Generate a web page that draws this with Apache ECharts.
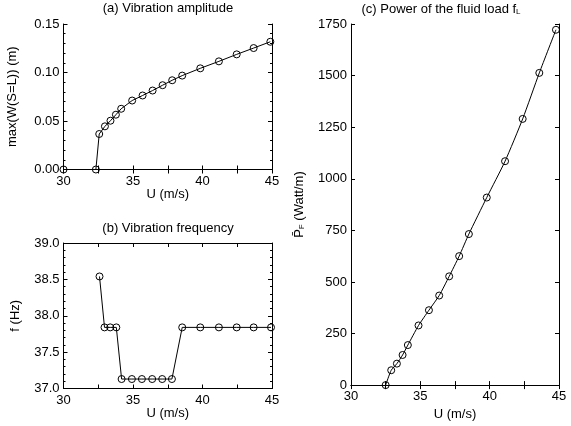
<!DOCTYPE html>
<html>
<head>
<meta charset="utf-8">
<script src="https://cdn.jsdelivr.net/npm/echarts@6/dist/echarts.min.js"></script>
<style>
html, body { margin: 0; padding: 0; background: #fff; }
#main { width: 571px; height: 426px; }
</style>
</head>
<body>
<div id="main"></div>
<script>
// (a) vibration amplitude
var uAmp = [30, 32.33, 32.57, 32.98, 33.38, 33.77, 34.15, 34.94, 35.69, 36.41, 37.13, 37.82, 38.54, 39.84, 41.18, 42.46, 43.68, 44.88];
var amp = [0, 0, 0.0366, 0.0445, 0.0503, 0.0565, 0.0626, 0.0711, 0.0763, 0.0814, 0.0869, 0.092, 0.0968, 0.1043, 0.1115, 0.1187, 0.1252, 0.1317];

// (b) vibration frequency
var uFreq = [32.59, 32.95, 33.36, 33.8, 34.18, 34.92, 35.64, 36.38, 37.1, 37.8, 38.54, 39.84, 41.18, 42.46, 43.68, 44.93];
var freq = [38.54, 37.84, 37.84, 37.84, 37.13, 37.13, 37.13, 37.13, 37.13, 37.13, 37.84, 37.84, 37.84, 37.84, 37.84, 37.84];

// (c) power of the fluid load
var uPow = [32.5, 32.9, 33.31, 33.72, 34.1, 34.87, 35.62, 36.36, 37.08, 37.8, 38.5, 39.79, 41.11, 42.38, 43.58, 44.78];
var power = [0, 72, 104, 146, 194, 289, 363, 434, 527, 625, 732, 909, 1085, 1290, 1513, 1722];

var dom = document.getElementById('main');
var myChart = echarts.init(dom);
var option;

var FONT = 'Liberation Sans';
var FS = 13;

function pairs(xs, ys) {
  return xs.map(function (x, i) { return [x, ys[i]]; });
}

// main x axis + mirrored top axis (ticks only)
function xAxes(grid) {
  var base = {
    type: 'value',
    gridIndex: grid,
    min: 30,
    max: 45,
    interval: 5,
    axisLine: { lineStyle: { color: '#000', width: 1 } },
    axisTick: { inside: true, length: 4, lineStyle: { color: '#000' } },
    minorTick: { show: true, splitNumber: 2, length: 4, lineStyle: { color: '#000' } },
    splitLine: { show: false }
  };
  var bottom = Object.assign({}, base, {
    position: 'bottom',
    name: 'U (m/s)',
    nameLocation: 'middle',
    nameGap: 16,
    nameTextStyle: { color: '#000', fontSize: FS, fontFamily: FONT },
    axisLabel: { color: '#000', fontSize: FS, fontFamily: FONT, margin: 5 }
  });
  var top = Object.assign({}, base, { position: 'top', axisLabel: { show: false } });
  return [bottom, top];
}

function yAxes(grid, min, max, step, minor, dec, name, gap, rich) {
  var base = {
    type: 'value',
    gridIndex: grid,
    min: min,
    max: max,
    interval: step,
    axisLine: { show: true, lineStyle: { color: '#000', width: 1 } },
    axisTick: { show: true, inside: true, length: 4, lineStyle: { color: '#000' } },
    minorTick: { show: minor > 1, splitNumber: minor, length: 2, lineStyle: { color: '#000' } },
    splitLine: { show: false }
  };
  var left = Object.assign({}, base, {
    position: 'left',
    name: name,
    nameLocation: 'middle',
    nameGap: gap,
    nameTextStyle: { color: '#000', fontSize: FS, fontFamily: FONT, rich: rich },
    axisLabel: {
      color: '#000', fontSize: FS, fontFamily: FONT, margin: 4,
      formatter: function (v) { return v.toFixed(dec); }
    }
  });
  var right = Object.assign({}, base, { position: 'right', axisLabel: { show: false } });
  return [left, right];
}

function lineSeries(idx, data, smooth) {
  return {
    type: 'line',
    xAxisIndex: idx,
    yAxisIndex: idx,
    data: data,
    smooth: smooth,
    symbol: 'circle',
    symbolSize: 7,
    itemStyle: { color: 'transparent', borderColor: '#000', borderWidth: 1 },
    lineStyle: { color: '#000', width: 1 },
    silent: true,
    animation: false
  };
}

var titleStyle = {
  color: '#000', fontSize: FS, fontWeight: 'normal', fontFamily: FONT,
  rich: { sub: { fontSize: 8, fontFamily: FONT, color: '#000', verticalAlign: 'bottom', padding: [6, 0, 0, 0] } }
};

option = {
  backgroundColor: '#fff',
  animation: false,
  title: [
    { text: '(a) Vibration amplitude', left: 168, top: 2, textAlign: 'center', padding: 0, textStyle: titleStyle },
    { text: '(b) Vibration frequency', left: 168, top: 222, textAlign: 'center', padding: 0, textStyle: titleStyle },
    { text: '(c) Power of the fluid load f{sub|L}', left: 441, top: 2, textAlign: 'center', padding: 0, textStyle: titleStyle }
  ],
  grid: [
    { left: 63.5, top: 24, width: 208.5, height: 145.5 },
    { left: 63.5, top: 243, width: 208.5, height: 145.5 },
    { left: 351, top: 24, width: 208, height: 364.5 }
  ],
  xAxis: [].concat(xAxes(0), xAxes(1), xAxes(2)),
  yAxis: [].concat(
    yAxes(0, 0, 0.15, 0.05, 5, 2, 'max(W(S=L)) (m)', 45),
    yAxes(1, 37, 39, 0.5, 5, 1, 'f (Hz)', 42),
    yAxes(2, 0, 1750, 250, 1, 0, '{p|P\u0304}{sub|F} (Watt/m)', 45, {
      p: { fontSize: FS, fontFamily: FONT, color: '#000' },
      sub: { fontSize: 8, fontFamily: FONT, color: '#000', verticalAlign: 'bottom', padding: [6, 0, 0, 0] }
    })
  ),
  series: [
    lineSeries(0, pairs(uAmp, amp), false),
    lineSeries(2, pairs(uFreq, freq), false),
    lineSeries(4, pairs(uPow, power), 0.2)
  ]
};

if (option && typeof option === 'object') {
  myChart.setOption(option);
}
</script>
</body>
</html>
